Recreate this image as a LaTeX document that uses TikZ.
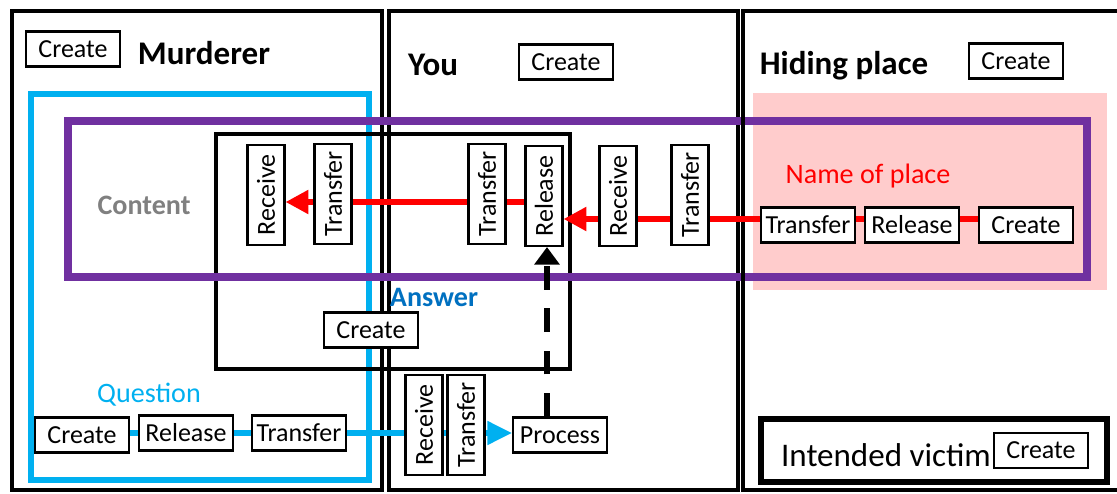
\documentclass[tikz,border=0pt]{standalone}
\usepackage{fontspec}
\setmainfont{Carlito}
\usetikzlibrary{arrows.meta}

\pgfdeclarelayer{frames}
\pgfdeclarelayer{links}
\pgfsetlayers{frames,links,main}

\definecolor{qcyan}{RGB}{0,176,240}
\definecolor{cpurple}{RGB}{112,48,160}
\definecolor{ablue}{RGB}{0,112,192}
\definecolor{pinkbg}{RGB}{255,204,204}
\definecolor{ctgray}{RGB}{128,128,128}

\newcommand\actfont{\fontsize{14.8}{16}\selectfont}
\newcommand\headfont{\fontsize{18.8}{20}\selectfont\bfseries}
\newcommand\tagfont{\fontsize{16}{18}\selectfont}

\tikzset{
  act/.style={draw, line width=1.2pt, fill=white, minimum width=1.88cm,
    minimum height=0.7cm, inner xsep=1pt, inner ysep=0pt, font=\actfont},
  vact/.style={act, rotate=90, minimum width=2cm, minimum height=0.74cm},
  headtxt/.style={inner sep=0pt, font=\headfont},
  tagtxt/.style={inner sep=0pt, font=\tagfont},
  panel/.style={draw, line width=#1},
  redarrow/.style={red, line width=3.2pt, -{Triangle[length=13pt,width=13pt]}},
  redlink/.style={red, line width=3.2pt},
  cyanarrow/.style={qcyan, line width=3pt, -{Triangle[length=14pt,width=13pt]}},
  dasharrow/.style={black, line width=3.6pt, dash pattern=on 13.5pt off 10.5pt,
    -{Triangle[length=10pt,width=14pt]}},
}

\begin{document}
\begin{tikzpicture}[x=0.02cm,y=-0.02cm]
\useasboundingbox (0,0) rectangle (1117,494);

% ---- headings and creation steps of the three agents
\node[act] (mcreate) at (73,49) {Create};
\node[headtxt] (mtitle) at (204,53) {Murderer};
\node[headtxt] (ytitle) at (433,65) {You};
\node[act] (ycreate) at (566,62) {Create};
\node[headtxt] (htitle) at (844,66) {Hiding place};
\node[act] (hcreate) at (1016,61) {Create};

% ---- region labels
\node[tagtxt, font=\tagfont\bfseries, text=ctgray] (content) at (144,205) {Content};
\node[tagtxt, font=\tagfont\bfseries, text=ablue] (answer) at (434,297) {Answer};
\node[tagtxt, text=qcyan] (question) at (149,395) {Question};
\node[tagtxt, text=red] (nameplace) at (868,176) {Name of place};

% ---- content chain
\node[vact] (mrecv) at (266,195) {Receive};
\node[vact] (mtrans) at (333,194) {Transfer};
\node[vact] (ytrans) at (487,194) {Transfer};
\node[vact] (yrel) at (544,196) {Release};
\node[vact] (yrecv) at (618,196) {Receive};
\node[vact] (ytrans2) at (690,195) {Transfer};
\node[act] (ptrans) at (808,225) {Transfer};
\node[act] (prel) at (912,225) {Release};
\node[act] (pcreate) at (1026,225) {Create};

% ---- answer
\node[act] (acreate) at (371,330) {Create};

% ---- question chain
\node[act] (qcreate) at (82,435) {Create};
\node[act] (qrel) at (186,433) {Release};
\node[act] (qtrans) at (299,433) {Transfer};
\node[vact] (brecv) at (424,425) {Receive};
\node[vact] (btrans) at (466,425) {Transfer};
\node[act] (proc) at (560,435) {Process};

% ---- intended victim
\node[draw, line width=3.4pt, minimum width=6.92cm, minimum height=1.26cm]
  (victim) at (934,450.5) {};
\node[inner sep=0pt, font=\fontsize{18.8}{20}\selectfont] (victimtxt) at (886,455) {Intended victim};
\node[act] (vcreate) at (1041,450.5) {Create};

% ---- frames
\begin{pgfonlayer}{frames}
  \draw[panel=2.8pt] (12,11) rectangle (382,490);
  \draw[panel=2.4pt] (389,11) rectangle (738,490);
  \fill[pinkbg] (753,93) rectangle (1107,290);
  \draw[qcyan, line width=3.4pt] (31,94) rectangle (369,480);
  \draw[line width=2.8pt] (216,134) rectangle (570,369);
  \draw[cpurple, line width=4.5pt] (68,121) rectangle (1087,277);
  \draw[panel=2.2pt] (1117,11) -- (743,11) -- (743,490) -- (1117,490);
\end{pgfonlayer}

% ---- connectors
\begin{pgfonlayer}{links}
  \draw[redarrow] (yrel.north |- 0,202) -- (mrecv.south |- 0,202);
  \draw[redarrow] (ptrans.west |- 0,219) -- (yrel.south |- 0,219);
  \draw[redlink] (ptrans.east |- 0,219) -- (prel.west |- 0,219);
  \draw[redlink] (prel.east |- 0,219) -- (pcreate.west |- 0,219);
  \draw[cyanarrow] (qcreate.east |- 0,433) -- (proc.west |- 0,433);
  \draw[dasharrow] (proc.north -| 547,0) -- (yrel.west -| 547,0);
\end{pgfonlayer}
\end{tikzpicture}
\end{document}
